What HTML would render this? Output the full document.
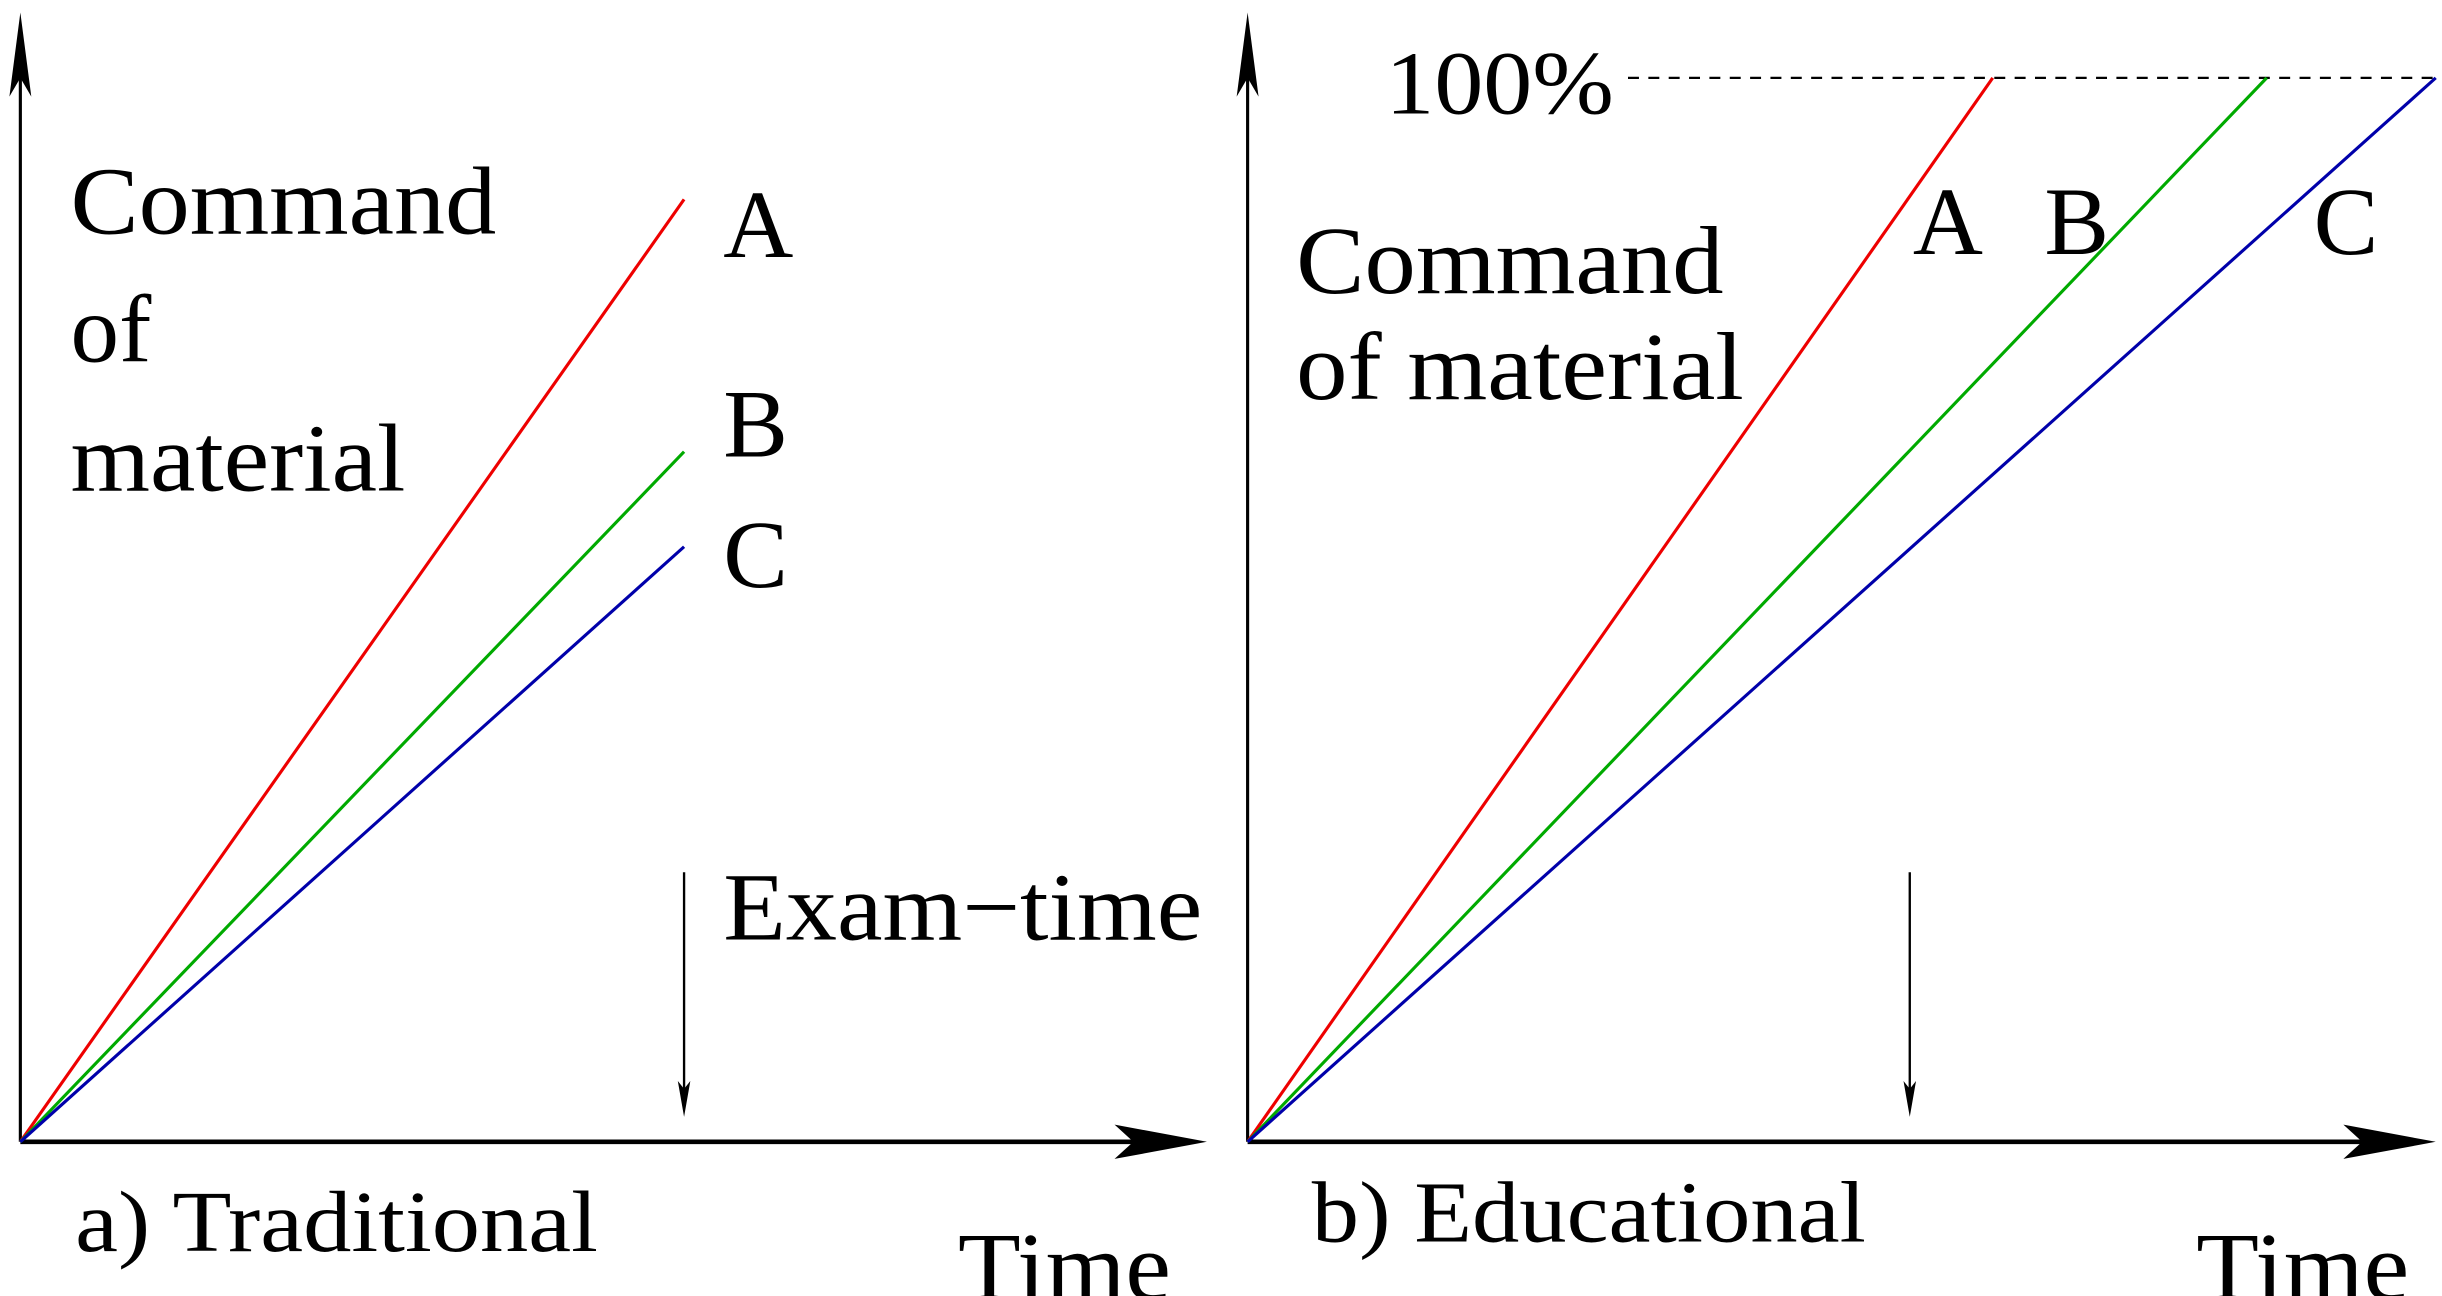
<!DOCTYPE html>
<html><head><meta charset="utf-8"><style>
html,body{margin:0;padding:0;background:#fff;overflow:hidden}
svg{display:block}
text{font-family:"Liberation Serif",serif;fill:#000}
</style></head><body>
<svg width="2442" height="1296" viewBox="0 0 1560 832" preserveAspectRatio="none" xmlns="http://www.w3.org/2000/svg">
<rect width="1560" height="832" fill="#fff"/>
<!-- left panel -->
<line x1="13" y1="733" x2="13" y2="40" stroke="#000" stroke-width="2"/>
<polygon points="13,8 6,62 13,50 20,62" fill="#000"/>
<line x1="13" y1="733" x2="740" y2="733" stroke="#000" stroke-width="3"/>
<polygon points="771,733 712,722 724,733 712,744" fill="#000"/>
<line x1="13" y1="733" x2="437" y2="128" stroke="#e00" stroke-width="2"/>
<line x1="13" y1="733" x2="437" y2="290" stroke="#0a0" stroke-width="2"/>
<line x1="13" y1="733" x2="437" y2="351" stroke="#00a" stroke-width="2"/>
<line x1="437" y1="560" x2="437" y2="700" stroke="#000" stroke-width="1.5"/>
<polygon points="437,717 433,694 437,699 441,694" fill="#000"/>
<text x="45" y="150" font-size="62" textLength="272" lengthAdjust="spacingAndGlyphs">Command</text>
<text x="45" y="232" font-size="62">of</text>
<text x="45" y="315" font-size="62" textLength="214" lengthAdjust="spacingAndGlyphs">material</text>
<text x="462" y="165" font-size="62">A</text>
<text x="462" y="293" font-size="62">B</text>
<text x="462" y="377" font-size="62">C</text>
<text x="462" y="603" font-size="62" textLength="306" lengthAdjust="spacingAndGlyphs">Exam−time</text>
<text x="48" y="803" font-size="56" textLength="334" lengthAdjust="spacingAndGlyphs">a) Traditional</text>
<text x="612" y="834" font-size="62" textLength="136" lengthAdjust="spacingAndGlyphs">Time</text>
<!-- right panel -->
<line x1="797" y1="733" x2="797" y2="40" stroke="#000" stroke-width="2"/>
<polygon points="797,8 790,62 797,50 804,62" fill="#000"/>
<line x1="797" y1="733" x2="1525" y2="733" stroke="#000" stroke-width="3"/>
<polygon points="1556,733 1497,722 1509,733 1497,744" fill="#000"/>
<line x1="1040" y1="50" x2="1560" y2="50" stroke="#000" stroke-width="1.5" stroke-dasharray="7,6"/>
<line x1="797" y1="733" x2="1273" y2="50" stroke="#e00" stroke-width="2"/>
<line x1="797" y1="733" x2="1448" y2="50" stroke="#0a0" stroke-width="2"/>
<line x1="797" y1="733" x2="1556" y2="50" stroke="#00a" stroke-width="2"/>
<line x1="1220" y1="560" x2="1220" y2="700" stroke="#000" stroke-width="1.5"/>
<polygon points="1220,717 1216,694 1220,699 1224,694" fill="#000"/>
<text x="885" y="73" font-size="58" textLength="146" lengthAdjust="spacingAndGlyphs">100%</text>
<text x="828" y="188" font-size="62" textLength="273" lengthAdjust="spacingAndGlyphs">Command</text>
<text x="828" y="256" font-size="62" textLength="286" lengthAdjust="spacingAndGlyphs">of material</text>
<text x="1222" y="163" font-size="62">A</text>
<text x="1306" y="163" font-size="62">B</text>
<text x="1478" y="163" font-size="62">C</text>
<text x="838" y="797" font-size="56" textLength="354" lengthAdjust="spacingAndGlyphs">b) Educational</text>
<text x="1403" y="834" font-size="62" textLength="136" lengthAdjust="spacingAndGlyphs">Time</text>
</svg>
</body></html>
